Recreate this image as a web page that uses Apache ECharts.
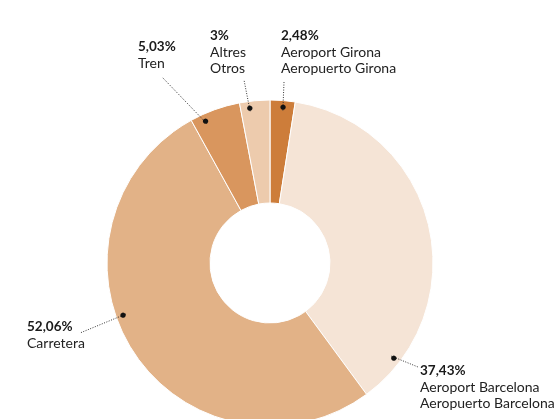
<!DOCTYPE html>
<html>
<head>
<meta charset="utf-8">
<script src="https://cdn.jsdelivr.net/npm/echarts@6/dist/echarts.min.js"></script>
<style>
html,body{margin:0;padding:0;background:#fff;}
#chart{width:559px;height:419px;}
</style>
</head>
<body>
<div id="chart"></div>
<script>
// ---- data ----
const namesCa = ['Aeroport Girona', 'Aeroport Barcelona', 'Carretera', 'Tren', 'Altres'];
const namesEs = ['Aeropuerto Girona', 'Aeropuerto Barcelona', '', '', 'Otros'];
const shares = [2.48, 37.43, 52.06, 5.03, 3];

// ---- styles / layout ----
const sliceColors = ['#CD7D3A', '#F5E4D6', '#E2B287', '#D9965E', '#EDCBAD'];
const dotFraction = [0.54, 0.88, 0.57, 0.25, 0.31];   // where in each slice the guide dot sits
const labelAnchors = [[281, 28], [420, 363], [27, 319], [138, 39], [210, 28]]; // top-left of each label block
const lineEnds = [[284, 82], [418, 367], [80, 333], [162, 77], [244, 80]];
const CENTER = [270, 263];
const OUTER = 163, INNER = 60, DOT_R = 153;
const FONT = 'Lato';
const LINE_H = 16;
const TINY = 0.001;

const pieData = shares.map((v, i) => ({ name: namesCa[i], value: v, itemStyle: { color: sliceColors[i] } }));

// Each slice split in three: before the dot, the (tiny) dot anchor, after the dot.
function splitData() {
  const out = [];
  shares.forEach((v, i) => {
    out.push({ name: '', value: v * dotFraction[i], label: { show: false }, labelLine: { show: false } });
    out.push({ name: namesCa[i], value: TINY, idx: i });
    out.push({ name: '', value: v * (1 - dotFraction[i]), label: { show: false }, labelLine: { show: false } });
  });
  return out;
}

function fmtPct(v) { return String(v).replace('.', ',') + '%'; }

// text blocks (percentage + names) as title components
const labelTitles = shares.map((v, i) => {
  let s = '{p|' + fmtPct(v) + '}\n{n|' + namesCa[i] + '}';
  if (namesEs[i]) s += '\n{n|' + namesEs[i] + '}';
  return {
    text: s,
    left: labelAnchors[i][0],
    top: labelAnchors[i][1],
    padding: 0,
    textAlign: 'left',
    textStyle: {
      fontFamily: FONT,
      fontWeight: 'normal',
      lineHeight: LINE_H,
      rich: {
        p: { fontFamily: FONT, fontWeight: 'bold', fontSize: 13.5, color: '#1a1a1a', lineHeight: LINE_H },
        n: { fontFamily: FONT, fontSize: 14, color: '#222', lineHeight: LINE_H }
      }
    }
  };
});

const chart = echarts.init(document.getElementById('chart'), null, { renderer: 'canvas' });
const labelData = splitData();
chart.setOption({
  backgroundColor: '#ffffff',
  animation: false,
  title: labelTitles,
  series: [
    {
      type: 'pie',
      silent: true,
      center: CENTER,
      radius: [INNER, OUTER],
      startAngle: 90,
      clockwise: true,
      data: pieData,
      itemStyle: { borderColor: '#ffffff', borderWidth: 1 },
      label: { show: false },
      labelLine: { show: false },
      z: 1
    },
    {
      // invisible pie that only provides the dotted guide lines
      type: 'pie',
      silent: true,
      center: CENTER,
      radius: [0, DOT_R],
      startAngle: 90,
      clockwise: true,
      avoidLabelOverlap: false,
      data: labelData,
      itemStyle: { color: 'rgba(0,0,0,0)' },
      label: {
        show: true,
        position: 'outside',
        fontSize: 4,
        color: 'rgba(0,0,0,0)',
        formatter: p => (p.data.idx == null ? '' : '.')
      },
      labelLine: {
        show: true,
        length: 10,
        length2: 0,
        lineStyle: { color: '#333', width: 1, type: [1, 1.5] }
      },
      labelLayout: params => {
        const d = labelData[params.dataIndex];
        if (!d || d.idx == null) return {};
        const i = d.idx;
        const start = params.labelLinePoints ? params.labelLinePoints[0] : lineEnds[i];
        return {
          x: lineEnds[i][0],
          y: lineEnds[i][1],
          labelLinePoints: [start, lineEnds[i], lineEnds[i]]
        };
      },
      z: 2
    },
    {
      type: 'pie',
      silent: true,
      center: CENTER,
      radius: [DOT_R - 5, DOT_R + 5],
      startAngle: 90,
      clockwise: true,
      data: splitData(),
      itemStyle: { color: 'rgba(0,0,0,0)' },
      label: {
        show: true,
        position: 'inside',
        formatter: p => (p.data.idx == null ? '' : '●'),
        fontFamily: 'DejaVu Sans',
        fontSize: 7,
        color: '#111'
      },
      labelLine: { show: false },
      z: 3
    }
  ]
});
</script>
</body>
</html>
